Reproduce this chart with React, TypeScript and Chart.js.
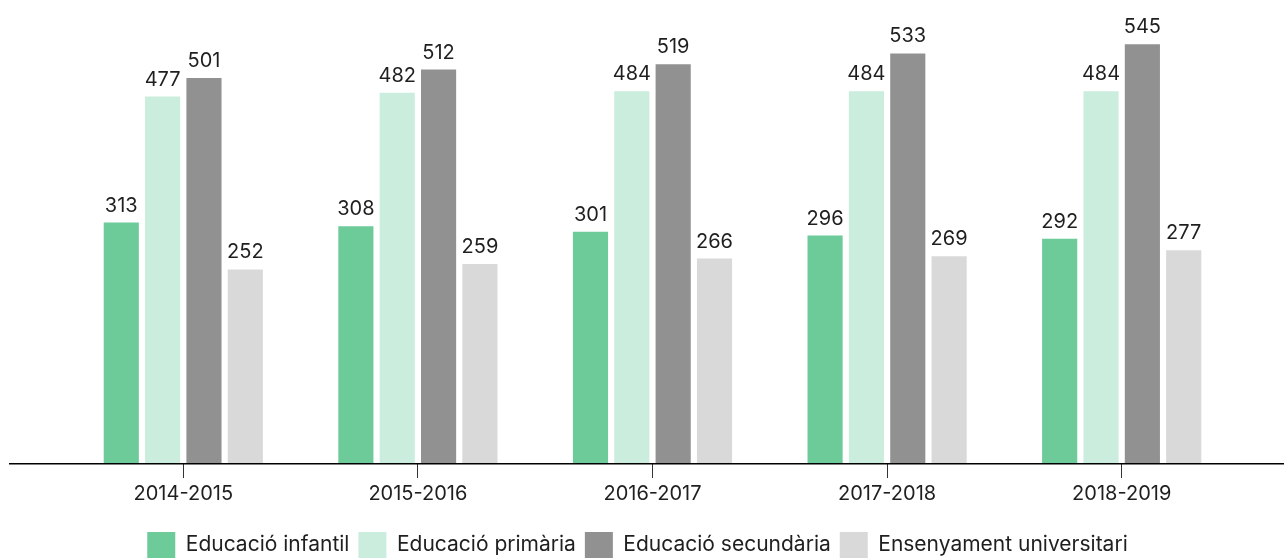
import React, { useEffect, useRef } from "react";
import { Chart, registerables } from "chart.js";

Chart.register(...registerables);

const categories = ["2014-2015", "2015-2016", "2016-2017", "2017-2018", "2018-2019"];
const seriesNames = ["Educació infantil", "Educació primària", "Educació secundària", "Ensenyament universitari"];
const infantil = [313, 308, 301, 296, 292];
const primaria = [477, 482, 484, 484, 484];
const secundaria = [501, 512, 519, 533, 545];
const universitari = [252, 259, 266, 269, 277];
const colors = ["#6dcb99", "#cbeddd", "#919191", "#d9d9d9"];

const FONT = "Inter, 'Noto Sans', sans-serif";
const TEXT = "#1f1f1f";

const valueLabels = {
  id: "valueLabels",
  afterDatasetsDraw(chart: any) {
    const ctx = chart.ctx;
    ctx.save();
    ctx.font = `20px ${FONT}`;
    ctx.fillStyle = TEXT;
    ctx.textAlign = "center";
    ctx.textBaseline = "alphabetic";
    chart.data.datasets.forEach((ds: any, i: number) => {
      const meta = chart.getDatasetMeta(i);
      meta.data.forEach((bar: any, j: number) => {
        ctx.fillText(String(ds.data[j]), bar.x, bar.y - 11);
      });
    });
    ctx.restore();
  },
};

const axisLine = {
  id: "axisLine",
  afterDraw(chart: any) {
    const ctx = chart.ctx;
    const y = chart.chartArea.bottom + 0.75;
    ctx.save();
    ctx.strokeStyle = "#000";
    ctx.lineWidth = 1.5;
    ctx.beginPath();
    ctx.moveTo(9, y);
    ctx.lineTo(chart.width, y);
    ctx.stroke();
    ctx.restore();
  },
};

export default function App() {
  const ref = useRef<HTMLCanvasElement | null>(null);
  useEffect(() => {
    if (!ref.current) return;
    const data = [infantil, primaria, secundaria, universitari];
    const chart = new Chart(ref.current, {
      type: "bar",
      data: {
        labels: categories,
        datasets: seriesNames.map((name, i) => ({
          label: name,
          data: data[i],
          backgroundColor: colors[i],
          borderWidth: 0,
          categoryPercentage: 0.705,
          barPercentage: 0.85,
        })),
      },
      options: {
        animation: false,
        responsive: true,
        maintainAspectRatio: false,
        layout: { padding: { left: 36, right: 45, top: 2, bottom: 0 } },
        plugins: {
          tooltip: { enabled: false },
          legend: {
            display: true,
            position: "bottom",
            labels: {
              boxWidth: 28,
              boxHeight: 26,
              padding: 9,
              color: TEXT,
              font: { family: FONT, size: 21 },
            },
          },
        },
        scales: {
          x: {
            border: { display: false },
            grid: {
              offset: false,
              drawOnChartArea: false,
              drawTicks: true,
              tickLength: 15,
              tickColor: "#333",
              tickWidth: 1,
            },
            ticks: {
              color: TEXT,
              padding: 4,
              font: { family: FONT, size: 20 },
              maxRotation: 0,
            },
            afterFit: (scale: any) => {
              scale.height = 60;
            },
          },
          y: {
            display: true,
            min: 0,
            max: 600,
            border: { display: false },
            grid: { display: false },
            ticks: { display: false },
            afterFit: (scale: any) => {
              scale.width = 30;
            },
          },
        },
      },
      plugins: [valueLabels, axisLine],
    });
    return () => chart.destroy();
  }, []);
  return (
    <div style={{ position: "absolute", left: 0, top: 0, width: 1284, height: 559, overflow: "hidden", background: "#fff" }}>
      <div style={{ position: "relative", width: 1284, height: 568 }}>
        <canvas ref={ref} />
      </div>
    </div>
  );
}
